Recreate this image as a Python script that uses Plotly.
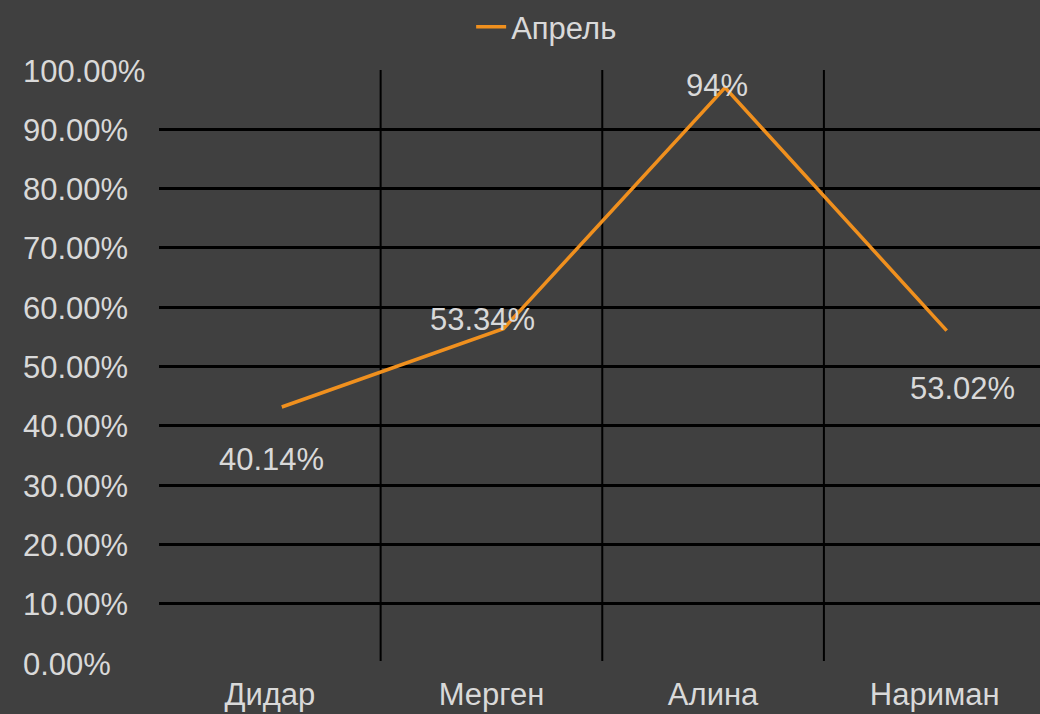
import plotly.graph_objects as go

categories = ["Дидар", "Мерген", "Алина", "Нариман"]
values = [0.4014, 0.5334, 0.94, 0.5302]
labels = ["40.14%", "53.34%", "94%", "53.02%"]
series_name = "Апрель"
y_ticks = [i / 10 for i in range(11)]
y_tick_text = [f"{v*100:.2f}%" for v in y_ticks]

BG = "#404040"
TXT = "#d9d9d9"
ORANGE = "#f0901e"
FONT = "Liberation Sans, Arial, sans-serif"
FS = 31

W, H = 1040, 714
ML, MR, MT, MB = 159, 0, 70, 51
xr = [-0.5, 3.475]
yr = [0, 1]
# the line in the reference is drawn slightly offset (right/up) from its labels
dx, dy = 0.054, 0.0303

fig = go.Figure()
fig.add_trace(go.Scatter(
    x=list(range(len(categories))), y=values, mode="lines", name=series_name,
    line=dict(color=ORANGE, width=3.5), xaxis="x2", yaxis="y2",
))

offsets = [(2, -35), (-9, 27), (4, 20), (28, -40)]
for i, (v, t) in enumerate(zip(values, labels)):
    fig.add_annotation(x=i, y=v, text=t, showarrow=False, xshift=offsets[i][0],
                       yshift=offsets[i][1], font=dict(size=FS, color=TXT, family=FONT))

# left-aligned y tick labels
label_left = -(ML - 21) / (W - ML - MR)
for v, t in zip(y_ticks, y_tick_text):
    fig.add_annotation(xref="paper", yref="y", x=label_left, y=v, text=t, showarrow=False,
                       xanchor="left", yanchor="middle", yshift=-1,
                       font=dict(size=FS, color=TXT, family=FONT))

for i in range(len(categories) - 1):
    fig.add_shape(type="line", xref="x", yref="paper", x0=i + 0.5, x1=i + 0.5, y0=0, y1=1,
                  line=dict(color="#000000", width=2), layer="below")

fig.update_layout(
    width=W, height=H,
    paper_bgcolor=BG, plot_bgcolor=BG,
    margin=dict(l=ML, r=MR, t=MT, b=MB),
    font=dict(family=FONT, color=TXT, size=FS),
    showlegend=True,
    legend=dict(orientation="h", x=0.44, xanchor="center", yref="container", y=0.962,
                yanchor="middle", font=dict(size=FS, color=TXT), bgcolor="rgba(0,0,0,0)",
                itemwidth=30),
    xaxis=dict(type="linear", range=xr, tickvals=list(range(len(categories))),
               ticktext=categories, showgrid=False, zeroline=False, showline=False,
               ticklabelstandoff=10, tickfont=dict(size=FS, color=TXT, family=FONT)),
    yaxis=dict(range=yr, tickvals=y_ticks, showticklabels=False, showgrid=True,
               gridcolor="#000000", gridwidth=3, zeroline=True, zerolinecolor=BG,
               zerolinewidth=4, showline=False),
    xaxis2=dict(range=[xr[0] - dx, xr[1] - dx], overlaying="x", visible=False),
    yaxis2=dict(range=[yr[0] - dy, yr[1] - dy], overlaying="y", visible=False),
)

fig.write_html("out.html", config={"displayModeBar": False},
               post_script="document.body.style.margin='0';")
